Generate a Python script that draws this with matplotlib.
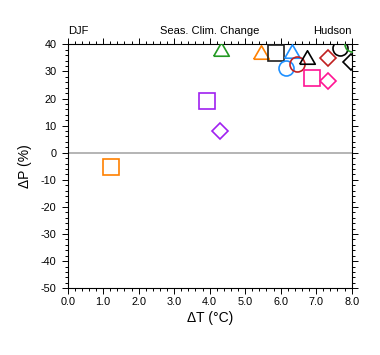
import matplotlib
matplotlib.use('Agg')
import matplotlib.pyplot as plt
from matplotlib.ticker import MultipleLocator, FormatStrFormatter

plt.rcParams['font.family'] = ['Liberation Sans', 'DejaVu Sans']
plt.rcParams['axes.unicode_minus'] = False

# dT (degC) and dP (%) for each model marker
dt_vals = [1.22, 3.93, 4.30, 4.31, 5.45, 5.88, 6.33, 6.14, 6.45, 6.73,
           6.89, 7.32, 7.32, 7.67, 8.01, 7.99]
dp_vals = [-5.4, 19.2, 8.2, 38.3, 37.0, 36.9, 37.7, 31.3, 32.6, 35.4,
           27.7, 26.5, 34.9, 38.5, 40.1, 33.5]
shapes = ['sq', 'sq', 'di', 'tr', 'tr', 'sq', 'tr', 'ci', 'ci', 'tr',
          'sq', 'di', 'di', 'ci', 'ci', 'di']
colors = ['#FF8000', '#A020F0', '#A020F0', '#229922', '#FF8000', '#202020',
          '#1E90FF', '#1E90FF', '#C02020', '#000000', '#FF1493', '#FF1493',
          '#C02020', '#000000', '#229922', '#000000']

tri = [(-1, -0.866), (1, -0.866), (0, 0.866), (-1, -0.866)]
marker_map = {'sq': ('s', 11.5), 'ci': ('o', 10.8), 'di': ('D', 7.9), 'tr': (tri, 11.2)}

fig = plt.figure(figsize=(3.8, 3.55), dpi=100)
ax = fig.add_axes([0.178, 0.1879, 0.7475, 0.6873])

ax.axhline(0, color='#b4b4b4', lw=1.4, zorder=1)

for x, y, s, c in zip(dt_vals, dp_vals, shapes, colors):
    m, ms = marker_map[s]
    ax.plot([x], [y], linestyle='none', marker=m, markersize=ms,
            markerfacecolor='none', markeredgecolor=c, markeredgewidth=1.2,
            clip_on=True, zorder=3)

ax.set_xlim(0, 8)
ax.set_ylim(-50, 40)
ax.xaxis.set_major_locator(MultipleLocator(1))
ax.xaxis.set_minor_locator(MultipleLocator(0.2))
ax.yaxis.set_major_locator(MultipleLocator(10))
ax.yaxis.set_minor_locator(MultipleLocator(2))
ax.xaxis.set_major_formatter(FormatStrFormatter('%.1f'))

ax.tick_params(which='both', direction='out', top=True, right=True,
               width=0.7, labelsize=7.8)
ax.tick_params(which='major', length=4.2)
ax.tick_params(which='minor', length=2.4)
ax.tick_params(axis='y', which='major', pad=4)
ax.tick_params(axis='x', which='major', pad=2)
for sp in ax.spines.values():
    sp.set_linewidth(0.8)

ax.set_xlabel('ΔT (°C)', fontsize=10, labelpad=3)
ax.set_ylabel('ΔP (%)', fontsize=10, labelpad=6)

ax.text(0.0, 1.035, 'DJF', transform=ax.transAxes, ha='left', va='bottom', fontsize=8)
ax.text(0.5, 1.035, 'Seas. Clim. Change', transform=ax.transAxes, ha='center', va='bottom', fontsize=8)
ax.text(1.0, 1.035, 'Hudson', transform=ax.transAxes, ha='right', va='bottom', fontsize=8)

fig.savefig('out.png', dpi=100)
